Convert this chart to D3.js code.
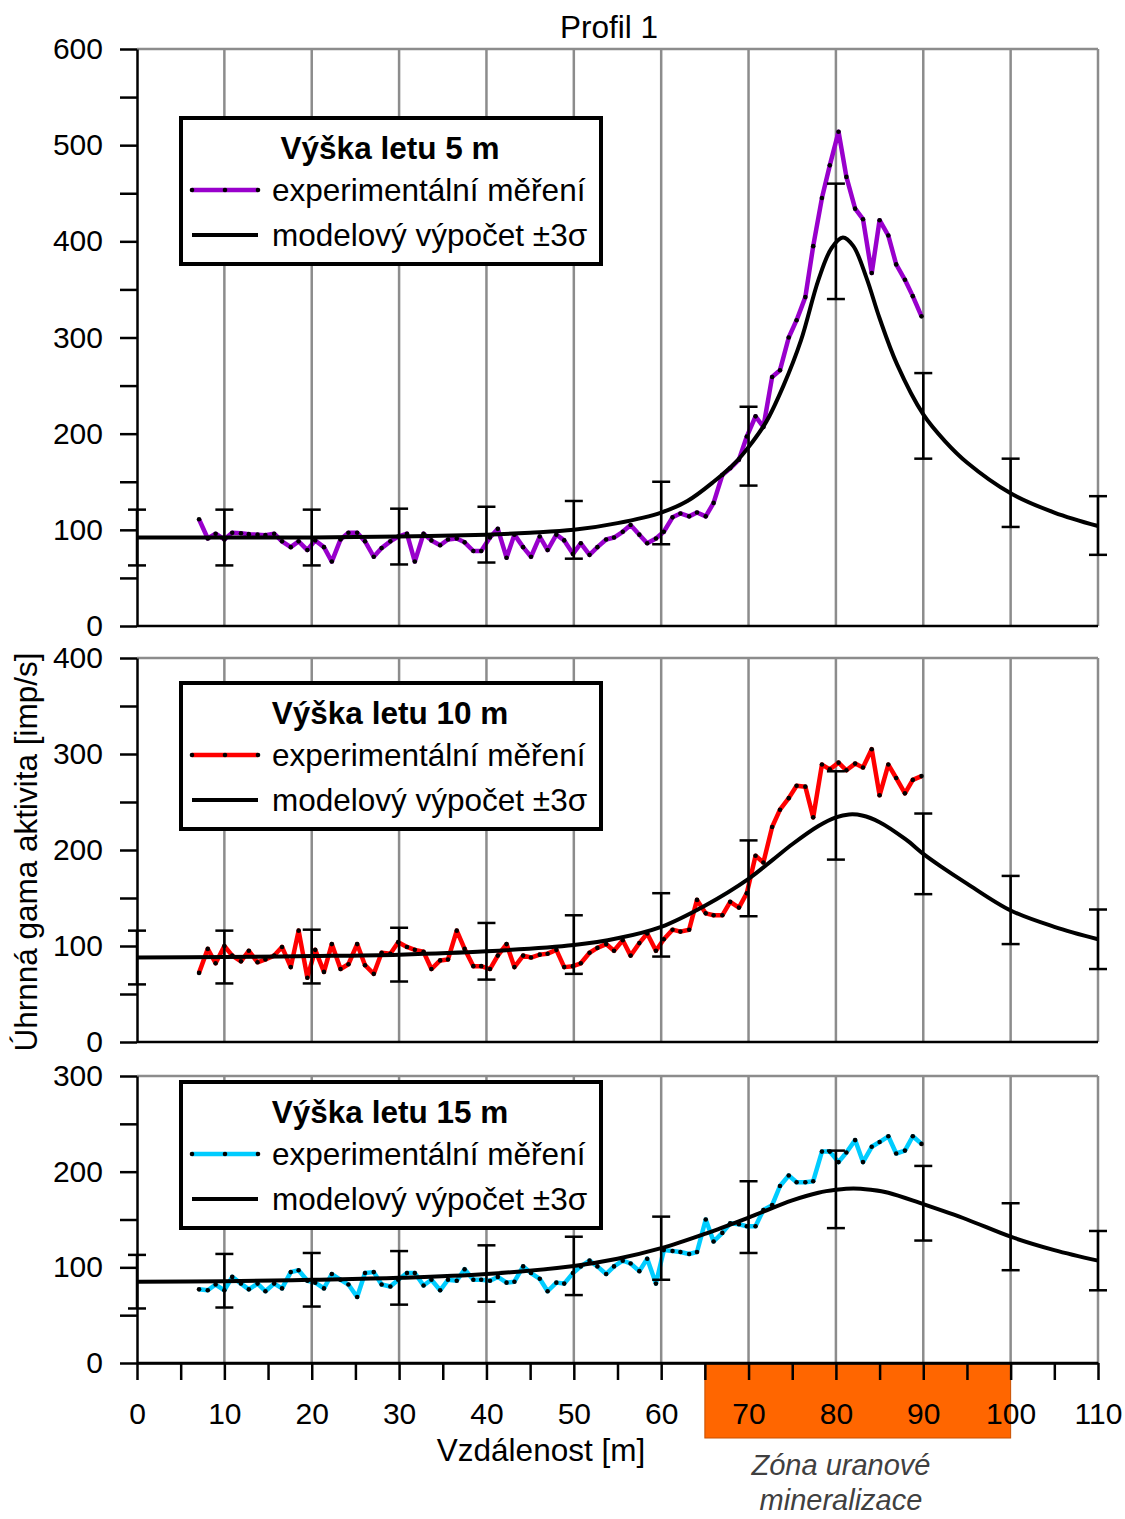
<!DOCTYPE html>
<html>
<head>
<meta charset="utf-8">
<script src="https://cdn.jsdelivr.net/npm/d3@7"></script>
<style>
  body { margin: 0; background: #fff; }
  svg { display: block; font-family: "Liberation Sans", Arial, sans-serif; }
</style>
</head>
<body>
<script>
// ---- data ----
var distance = [
  7.1, 8.1, 9.0, 10.0, 10.9, 11.9, 12.8, 13.8, 14.7, 15.7,
  16.6, 17.6, 18.5, 19.5, 20.4, 21.4, 22.3, 23.3, 24.2, 25.2,
  26.1, 27.1, 28.0, 29.0, 29.9, 30.9, 31.8, 32.8, 33.7, 34.7,
  35.6, 36.6, 37.5, 38.5, 39.4, 40.4, 41.3, 42.3, 43.2, 44.2,
  45.1, 46.1, 47.0, 48.0, 48.9, 49.9, 50.8, 51.8, 52.7, 53.7,
  54.6, 55.6, 56.5, 57.5, 58.4, 59.4, 60.3, 61.3, 62.2, 63.2,
  64.1, 65.1, 66.0, 67.0, 67.9, 68.9, 69.8, 70.8, 71.7, 72.7,
  73.6, 74.6, 75.5, 76.5, 77.4, 78.4, 79.3, 80.3, 81.2, 82.2,
  83.1, 84.1, 85.0, 86.0, 86.9, 87.9, 88.8, 89.8];

var exp5 = [
  111, 91, 96, 90, 97, 96.5, 95.5, 95, 94.5, 96,
  88, 82, 88, 79, 89, 82, 67, 90, 97, 97,
  88, 72, 81, 88, 93, 96, 67, 96, 89, 84,
  90, 91, 87, 78, 78, 92, 101, 71, 95, 82,
  72, 93, 79, 95, 89, 75, 86, 74, 82, 90,
  92, 98, 105, 95, 86, 91, 98, 113, 117, 114,
  118, 114, 128, 157, 164, 173, 197, 218, 207, 259,
  266, 300, 318, 342, 395, 445, 479, 514, 467, 434,
  423, 367, 422, 406, 376, 360, 343, 322];

var exp10 = [
  72, 97, 82, 100, 90, 84, 95, 83, 86, 90,
  99, 78, 116, 67, 96, 73, 102, 76, 81, 102,
  80, 71, 93, 92, 104, 99, 96, 94, 76, 85,
  86, 116, 97, 79, 79, 76, 90, 102, 78, 90,
  88, 91, 92, 96, 78, 79, 82, 93, 98, 102,
  95, 106, 90, 103, 113, 95, 107, 117, 115, 117,
  148, 134, 132, 132, 146, 140, 155, 194, 187, 224,
  242, 254, 267, 266, 234, 289, 284, 291, 283, 290,
  286, 305, 257, 289, 275, 259, 273, 277];

var exp15 = [
  77, 76, 82, 76, 90, 83, 77, 83, 75, 83,
  78, 95, 97, 86, 84, 78, 93, 87, 82, 69,
  94, 95, 82, 80, 87, 94, 94, 81, 87, 76,
  87, 86, 98, 87, 87, 86, 90, 84, 85, 101,
  94, 88, 75, 84, 83, 94, 101, 107, 101, 93,
  101, 107, 104, 96, 109, 83, 118, 117, 116, 114,
  116, 150, 127, 136, 146, 145, 143, 143, 160, 165,
  185, 196, 189, 189, 190, 221, 221, 210, 220, 233,
  210, 226, 231, 237, 219, 222, 237, 229];

// model curves (read at selected distances)
var model5X = [0, 10, 20, 30, 40, 45, 50, 55, 60, 63, 66, 68.6, 70, 72, 74, 76, 78, 79.5, 80.8, 82, 83.5, 85, 87, 90, 92.5, 95, 100, 105, 110];
var model5 = [92, 92, 92, 93, 95, 97, 100, 107, 118, 130, 150, 171, 186, 212, 250, 297, 360, 393, 404, 395, 362, 320, 272, 220, 192, 170, 138, 118, 104];

var model10X = [0, 10, 20, 30, 40, 50, 55, 60, 65, 70, 72.8, 75, 78, 80, 81.5, 83, 85, 88, 90, 92, 95, 100, 105, 110];
var model10 = [88, 88.5, 89.5, 91, 94.5, 101, 108, 120, 142, 170, 190, 206, 225, 234, 237, 236, 229, 211, 196, 183, 165, 137, 120, 107];

var model15X = [0, 10, 20, 30, 40, 50, 55, 60, 65, 70, 75, 78, 80, 82, 84, 86, 90, 95, 100, 105, 110];
var model15 = [85, 85.5, 87, 89, 93, 101.5, 109, 120, 135, 152, 170, 178, 181, 182.5, 181, 178, 166, 150, 132, 118, 107];

// +-3 sigma bars
var errX = [0, 10, 20, 30, 40, 50, 60, 70, 80, 90, 100, 110];
var err5Lo = [63, 63, 63, 64, 66, 70, 85, 146, 340, 174, 103, 74];
var err5Hi = [121, 121, 121, 122, 124, 130, 150, 228, 460, 263, 174, 135];
var err10Lo = [60, 61, 61, 63, 65, 71, 89, 131, 190, 154, 102, 76];
var err10Hi = [116, 116, 117, 119, 124, 132, 155, 210, 282, 238, 173, 138];
var err15Lo = [57, 58, 59, 61, 64, 71, 87, 115, 141, 128, 97, 76];
var err15Hi = [113, 114, 115, 117, 123, 132, 153, 190, 222, 206, 167, 138];

var xTickValues = [0, 5, 10, 15, 20, 25, 30, 35, 40, 45, 50, 55, 60, 65, 70, 75, 80, 85, 90, 95, 100, 105, 110];
var gridValues = [10, 20, 30, 40, 50, 60, 70, 80, 90, 100, 110];
var yTicks5 = [0, 100, 200, 300, 400, 500, 600];
var yMinor5 = [50, 150, 250, 350, 450, 550];
var yTicks10 = [0, 100, 200, 300, 400];
var yMinor10 = [50, 150, 250, 350];
var yTicks15 = [0, 100, 200, 300];
var yMinor15 = [50, 150, 250];
var zone = [65, 100];

var titles = ["Výška letu 5 m", "Výška letu 10 m", "Výška letu 15 m"];
var legendLabels = ["experimentální měření", "modelový výpočet ±3σ"];

// ---- layout ----
var width = 1125, height = 1519;
var svg = d3.select("body").append("svg").attr("width", width).attr("height", height);

var x = d3.scaleLinear().domain([0, 110]).range([137, 1098]);

var panels = [
  {exp: exp5, mx: model5X, my: model5, lo: err5Lo, hi: err5Hi, color: "#9900cc",
   ticks: yTicks5, minor: yMinor5, top: 49, bottom: 626, legendY: 118, title: titles[0]},
  {exp: exp10, mx: model10X, my: model10, lo: err10Lo, hi: err10Hi, color: "#ff0000",
   ticks: yTicks10, minor: yMinor10, top: 658, bottom: 1042, legendY: 683, title: titles[1]},
  {exp: exp15, mx: model15X, my: model15, lo: err15Lo, hi: err15Hi, color: "#00ccff",
   ticks: yTicks15, minor: yMinor15, top: 1076, bottom: 1363, legendY: 1082, title: titles[2]}
];

var tickFont = 30;
var textFont = 31.5;

// orange zone under the bottom axis
svg.append("rect")
  .attr("x", x(zone[0]))
  .attr("y", 1363)
  .attr("width", x(zone[1]) - x(zone[0]))
  .attr("height", 75)
  .attr("fill", "#ff6600")
  .attr("stroke", "#c85000")
  .attr("stroke-width", 1);

panels.forEach(function(p){
  var y = d3.scaleLinear()
            .domain([0, d3.max(p.ticks)])
            .range([p.bottom, p.top]);
  var g = svg.append("g");

  // grid
  g.selectAll(".grid")
    .data(gridValues)
    .enter()
      .append("line")
      .attr("x1", function(d){return x(d)})
      .attr("x2", function(d){return x(d)})
      .attr("y1", p.top)
      .attr("y2", p.bottom)
      .attr("stroke", "#8c8c8c")
      .attr("stroke-width", 2.5);
  g.append("line")
    .attr("x1", x(0)).attr("x2", x(110))
    .attr("y1", p.top).attr("y2", p.top)
    .attr("stroke", "#8c8c8c")
    .attr("stroke-width", 2.5);

  // measured series
  var pts = distance.map(function(d, i){return [d, p.exp[i]]});
  g.append("path")
    .datum(pts)
    .attr("fill", "none")
    .attr("stroke", p.color)
    .attr("stroke-width", 4.5)
    .attr("stroke-linejoin", "round")
    .attr("d", d3.line().x(function(d){return x(d[0])}).y(function(d){return y(d[1])}));
  g.selectAll(".dot")
    .data(pts)
    .enter()
      .append("circle")
      .attr("cx", function(d){return x(d[0])})
      .attr("cy", function(d){return y(d[1])})
      .attr("r", 2.3)
      .attr("fill", "#000");

  // model
  var mpts = p.mx.map(function(d, i){return [d, p.my[i]]});
  g.append("path")
    .datum(mpts)
    .attr("fill", "none")
    .attr("stroke", "#000")
    .attr("stroke-width", 4)
    .attr("d", d3.line().curve(d3.curveCatmullRom.alpha(0.5))
                 .x(function(d){return x(d[0])}).y(function(d){return y(d[1])}));

  // error bars
  var bars = g.selectAll(".bar")
    .data(errX.map(function(d, i){return {x: d, lo: p.lo[i], hi: p.hi[i]}}))
    .enter()
      .append("g");
  bars.append("line")
    .attr("x1", function(d){return x(d.x)}).attr("x2", function(d){return x(d.x)})
    .attr("y1", function(d){return y(d.lo)}).attr("y2", function(d){return y(d.hi)})
    .attr("stroke", "#000").attr("stroke-width", 2.5);
  bars.append("line")
    .attr("x1", function(d){return x(d.x) - 9}).attr("x2", function(d){return x(d.x) + 9})
    .attr("y1", function(d){return y(d.lo)}).attr("y2", function(d){return y(d.lo)})
    .attr("stroke", "#000").attr("stroke-width", 2.5);
  bars.append("line")
    .attr("x1", function(d){return x(d.x) - 9}).attr("x2", function(d){return x(d.x) + 9})
    .attr("y1", function(d){return y(d.hi)}).attr("y2", function(d){return y(d.hi)})
    .attr("stroke", "#000").attr("stroke-width", 2.5);

  // bottom line of the panel
  g.append("line")
    .attr("x1", x(0)).attr("x2", x(110))
    .attr("y1", p.bottom).attr("y2", p.bottom)
    .attr("stroke", "#000")
    .attr("stroke-width", 2.5);

  // y axis
  var yAxis = d3.axisLeft(y).tickValues(p.ticks).tickSize(17).tickSizeOuter(0).tickPadding(17);
  var ya = g.append("g").attr("transform", "translate(" + x(0) + ",0)").call(yAxis);
  ya.selectAll("line, path").attr("stroke", "#000").attr("stroke-width", 2.5);
  ya.selectAll("text").attr("font-size", tickFont).attr("font-family", "Liberation Sans, Arial, sans-serif").attr("fill", "#000");
  var ym = g.append("g").attr("transform", "translate(" + x(0) + ",0)")
    .call(d3.axisLeft(y).tickValues(p.minor).tickSize(17).tickFormat(""));
  ym.select(".domain").remove();
  ym.selectAll("line").attr("stroke", "#000").attr("stroke-width", 2.5);

  // legend
  var lg = g.append("g").attr("transform", "translate(181," + p.legendY + ")");
  lg.append("rect")
    .attr("width", 420).attr("height", 146)
    .attr("fill", "#fff").attr("stroke", "#000").attr("stroke-width", 4);
  lg.append("text")
    .attr("x", 209).attr("y", 30).attr("dy", "0.35em")
    .attr("text-anchor", "middle")
    .attr("font-size", textFont).attr("font-weight", "bold")
    .text(p.title);
  lg.append("line")
    .attr("x1", 11).attr("x2", 77).attr("y1", 72).attr("y2", 72)
    .attr("stroke", p.color).attr("stroke-width", 4.5);
  lg.selectAll(".ldot")
    .data([11, 44, 77])
    .enter()
      .append("circle")
      .attr("cx", function(d){return d}).attr("cy", 72).attr("r", 2.3).attr("fill", "#000");
  lg.append("line")
    .attr("x1", 11).attr("x2", 77).attr("y1", 117).attr("y2", 117)
    .attr("stroke", "#000").attr("stroke-width", 4);
  lg.selectAll(".ltxt")
    .data(legendLabels)
    .enter()
      .append("text")
      .attr("x", 91)
      .attr("y", function(d, i){return 72 + i * 45})
      .attr("dy", "0.35em")
      .attr("font-size", textFont)
      .text(function(d){return d});
});

// x axis at the bottom panel
var xAxis = d3.axisBottom(x)
  .tickValues(xTickValues)
  .tickSize(17)
  .tickSizeOuter(0)
  .tickPadding(23)
  .tickFormat(function(d){return d % 10 === 0 ? d : ""});
var xa = svg.append("g").attr("transform", "translate(0,1363)").call(xAxis);
xa.selectAll("line, path").attr("stroke", "#000").attr("stroke-width", 2.5);
xa.selectAll("text").attr("font-size", tickFont).attr("font-family", "Liberation Sans, Arial, sans-serif").attr("fill", "#000");

// titles
svg.append("text")
  .attr("x", 609).attr("y", 27).attr("dy", "0.35em")
  .attr("text-anchor", "middle").attr("font-size", textFont)
  .text("Profil 1");
svg.append("text")
  .attr("x", 541).attr("y", 1450).attr("dy", "0.35em")
  .attr("text-anchor", "middle").attr("font-size", textFont)
  .text("Vzdálenost [m]");
svg.append("text")
  .attr("transform", "translate(37,852) rotate(-90)")
  .attr("text-anchor", "middle").attr("font-size", textFont)
  .text("Úhrnná gama aktivita [imp/s]");
svg.append("text")
  .attr("x", 841).attr("y", 1465).attr("dy", "0.35em")
  .attr("text-anchor", "middle").attr("font-size", 29)
  .attr("font-style", "italic").attr("fill", "#404040")
  .text("Zóna uranové");
svg.append("text")
  .attr("x", 841).attr("y", 1500).attr("dy", "0.35em")
  .attr("text-anchor", "middle").attr("font-size", 29)
  .attr("font-style", "italic").attr("fill", "#404040")
  .text("mineralizace");
</script>
</body>
</html>
